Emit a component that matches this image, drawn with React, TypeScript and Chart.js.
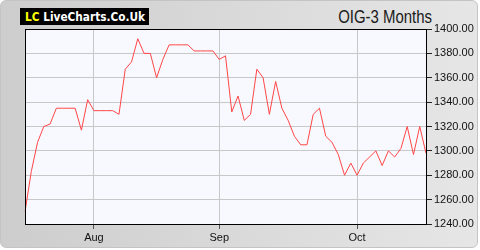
import React, { useEffect, useRef } from 'react';
import { Chart, registerables } from 'chart.js';

Chart.register(...registerables);

// Daily closing prices (trading days)
const prices: number[] = [
  1250, 1283, 1307, 1320, 1322, 1335, 1335, 1335, 1335, 1317,
  1342, 1333, 1333, 1333, 1333, 1330, 1367, 1373, 1392, 1380,
  1380, 1360, 1375, 1387, 1387, 1387, 1387, 1382, 1382, 1382,
  1382, 1375, 1378, 1332, 1345, 1325, 1330, 1367, 1360, 1330,
  1357, 1335, 1325, 1312, 1305, 1305, 1330, 1335, 1312, 1307,
  1297, 1280, 1290, 1280, 1290, 1295, 1300, 1288, 1300, 1295,
  1302, 1320, 1297, 1320, 1298,
];

// Month tick labels and the trading-day index at which each month starts
const monthLabels: string[] = ['Aug', 'Sep', 'Oct'];
const monthIndices: number[] = [11, 31, 53];

const yMin = 1240;
const yMax = 1400;
const yStep = 20;

const title = 'OIG-3 Months';

const labels: string[] = prices.map((_, i) => {
  const k = monthIndices.indexOf(i);
  return k >= 0 ? monthLabels[k] : '';
});

const framePlugin = {
  id: 'frame',
  beforeDraw(chart: any) {
    const { ctx, chartArea: a } = chart;
    ctx.save();
    ctx.fillStyle = '#f8f9ff';
    ctx.fillRect(a.left, a.top, a.right - a.left, a.bottom - a.top);
    ctx.restore();
  },
  afterDraw(chart: any) {
    const { ctx, chartArea: a } = chart;
    ctx.save();
    ctx.strokeStyle = '#000';
    ctx.lineWidth = 1;
    ctx.strokeRect(a.left + 0.5, a.top + 0.5, a.right - a.left, a.bottom - a.top);
    ctx.restore();
  },
};

export default function App() {
  const ref = useRef<HTMLCanvasElement>(null);

  useEffect(() => {
    document.body.style.margin = '0';
    const chart = new Chart(ref.current!, {
      type: 'line',
      data: {
        labels,
        datasets: [
          {
            data: prices,
            borderColor: '#ff4646',
            borderWidth: 1,
            pointRadius: 0,
            tension: 0,
            fill: false,
          },
        ],
      },
      options: {
        animation: false,
        responsive: false,
        layout: { padding: { left: 25, top: 29, right: 0, bottom: 0 } },
        plugins: { legend: { display: false }, tooltip: { enabled: false } },
        scales: {
          x: {
            type: 'category',
            offset: false,
            border: { display: false },
            grid: {
              color: (c: any) => (c.tick && c.tick.label ? '#c8c8c8' : 'transparent'),
              tickColor: (c: any) => (c.tick && c.tick.label ? '#555' : 'transparent'),
              tickLength: 5,
            },
            ticks: {
              autoSkip: false,
              maxRotation: 0,
              minRotation: 0,
              padding: 2,
              color: '#111',
              font: { family: 'Liberation Sans, Arial, sans-serif', size: 11 },
            },
            afterFit: (s: any) => {
              s.height = 26;
            },
          },
          y: {
            position: 'right',
            min: yMin,
            max: yMax,
            border: { display: false },
            grid: { color: '#c8c8c8', tickColor: '#222', tickLength: 6 },
            ticks: {
              stepSize: yStep,
              padding: 2,
              color: '#111',
              font: { family: 'Liberation Sans, Arial, sans-serif', size: 11 },
              callback: (v: any) => Number(v).toFixed(2),
            },
            afterFit: (s: any) => {
              s.width = 54;
            },
          },
        },
      },
      plugins: [framePlugin],
    });
    return () => chart.destroy();
  }, []);

  return (
    <div style={{ position: 'fixed', left: 0, top: 0, width: 480, height: 250, background: '#fff' }}>
      <div
        style={{
          position: 'absolute',
          left: 0,
          top: 0,
          width: 478,
          height: 248,
          boxSizing: 'border-box',
          border: '1px solid #c4c4c4',
          borderRadius: 6,
          background: 'linear-gradient(to right, #cdcdcd, #e6e6e6)',
        }}
      />
      <div
        style={{
          position: 'absolute',
          left: 20,
          top: 8,
          width: 129,
          height: 17,
          background: '#000',
          overflow: 'hidden',
        }}
      >
        <span
          style={{
            position: 'absolute',
            left: 5,
            top: 1.5,
            font: 'bold 12px "DejaVu Sans", sans-serif',
            lineHeight: '14px',
            whiteSpace: 'nowrap',
            transform: 'scaleX(0.88)',
            transformOrigin: 'left top',
          }}
        >
          <span style={{ color: '#ffff00' }}>LC</span>
          <span style={{ color: '#fff' }}> LiveCharts.Co.Uk</span>
        </span>
      </div>
      <div
        style={{
          position: 'absolute',
          right: 48,
          top: 7.5,
          font: '18px "Liberation Sans", Arial, sans-serif',
          lineHeight: '18px',
          color: '#1a1a1a',
          whiteSpace: 'nowrap',
          transform: 'scaleX(0.83)',
          transformOrigin: 'right top',
        }}
      >
        {title}
      </div>
      <canvas ref={ref} width={480} height={250} style={{ position: 'absolute', left: 0, top: 0 }} />
    </div>
  );
}
